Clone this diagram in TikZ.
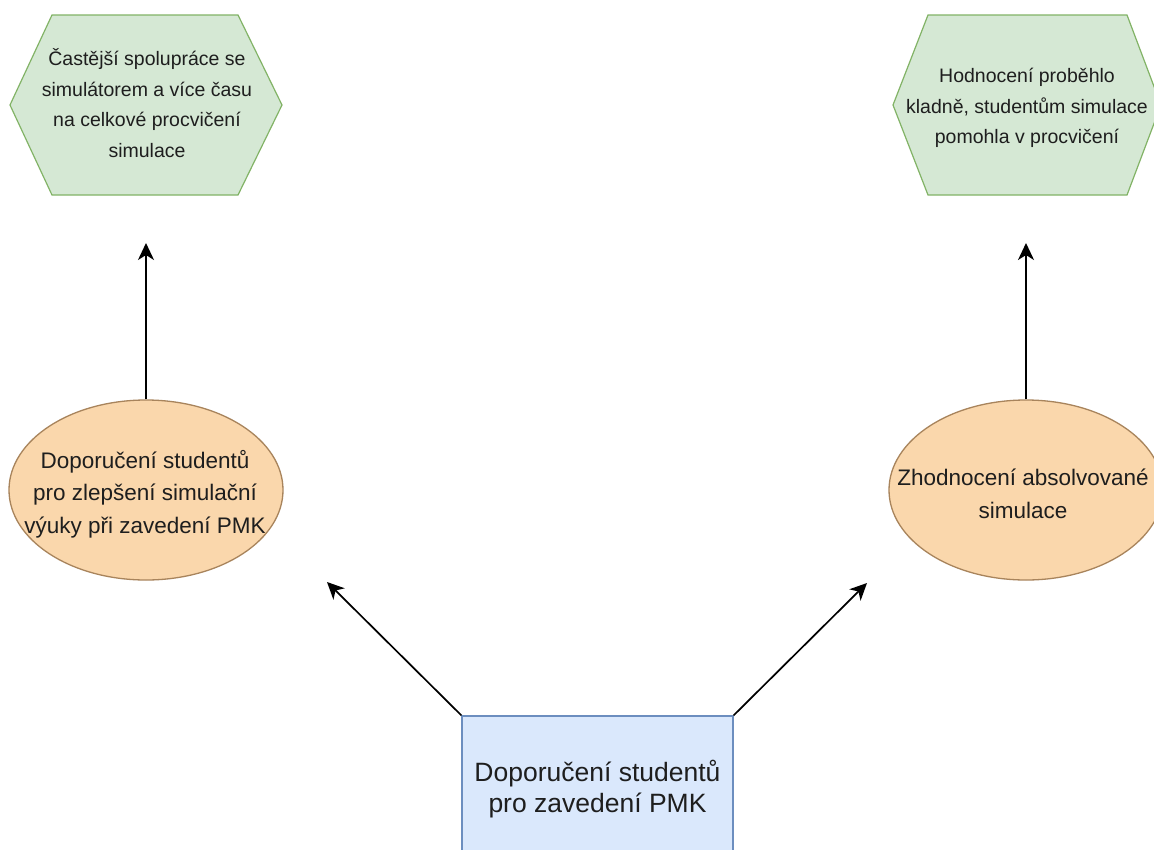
\documentclass[tikz,border=0pt]{standalone}
\usepackage{fontspec}
\setmainfont{Liberation Sans}
\usetikzlibrary{arrows.meta,shapes.geometric}
\definecolor{hexfill}{HTML}{D5E8D4}
\definecolor{hexdraw}{HTML}{82B366}
\definecolor{ellfill}{HTML}{FAD7AC}
\definecolor{elldraw}{HTML}{A8845C}
\definecolor{recfill}{HTML}{DAE8FC}
\definecolor{recdraw}{HTML}{6C8EBF}
\definecolor{txt}{HTML}{1E1E1E}
\tikzset{
  hexa/.style={fill=hexfill,draw=hexdraw,line width=1.2pt,line join=miter},
  hextext/.style={align=center,text=txt,inner sep=0pt,font=\fontsize{19.5}{30.5}\selectfont},
  ellbox/.style={ellipse,fill=ellfill,draw=elldraw,line width=1.3pt,minimum width=274pt,minimum height=180pt,inner sep=0pt},
  elltext/.style={align=center,text=txt,inner sep=0pt,font=\fontsize{22.5}{32.5}\selectfont},
  recbox/.style={rectangle,fill=recfill,draw=recdraw,line width=1.2pt,minimum width=271pt,minimum height=146pt,inner sep=0pt,align=center,text=txt,font=\fontsize{26.5}{31}\selectfont},
  arr/.style={draw=black,line width=1.7pt,-{Stealth[length=17pt,width=16pt,inset=5pt]}}
}
\begin{document}
\begin{tikzpicture}[x=1pt,y=-1pt]
\useasboundingbox (0,0) rectangle (1154,849);
\clip (0,0) rectangle (1154,849);
\fill[white] (0,0) rectangle (1154,849);
% hexagons
\coordinate (hc1) at (146,105);
\coordinate (hc2) at (1027,105);
\draw[hexa] (hc1) ++(-136,0) -- ++(42,-90) -- ++(186,0) -- ++(44,90) -- ++(-44,90) -- ++(-186,0) -- cycle;
\draw[hexa] (hc2) ++(-134,0) -- ++(35,-90) -- ++(199,0) -- ++(34,90) -- ++(-34,90) -- ++(-199,0) -- cycle;
\node[hextext] (h1) at (147,103) {Častější spolupráce se\\simulátorem a více času\\na celkové procvičení\\simulace};
\node[hextext] (h2) at (1027,108) {Hodnocení proběhlo\\kladně, studentům simulace\\pomohla v procvičení};
% ellipses
\node[ellbox] (e1) at (146,490) {};
\node[ellbox] (e2) at (1026,490) {};
\node[elltext] (t1) at (145,494) {Doporučení studentů\\pro zlepšení simulační\\výuky při zavedení PMK};
\node[elltext] (t2) at (1023,494) {Zhodnocení absolvované\\simulace};
% rectangle
\node[recbox] (r) at (597.5,789) {Doporučení studentů\\pro zavedení PMK};
% arrow ends
\coordinate (a1) at (146,243);
\coordinate (a2) at (1026,243);
\coordinate (a3) at (327,582);
\coordinate (a4) at (867,583);
\draw[arr] (e1.north) -- (a1);
\draw[arr] (e2.north) -- (a2);
\draw[arr] (r.north west) -- (a3);
\draw[arr] (r.north east) -- (a4);
\end{tikzpicture}
\end{document}
